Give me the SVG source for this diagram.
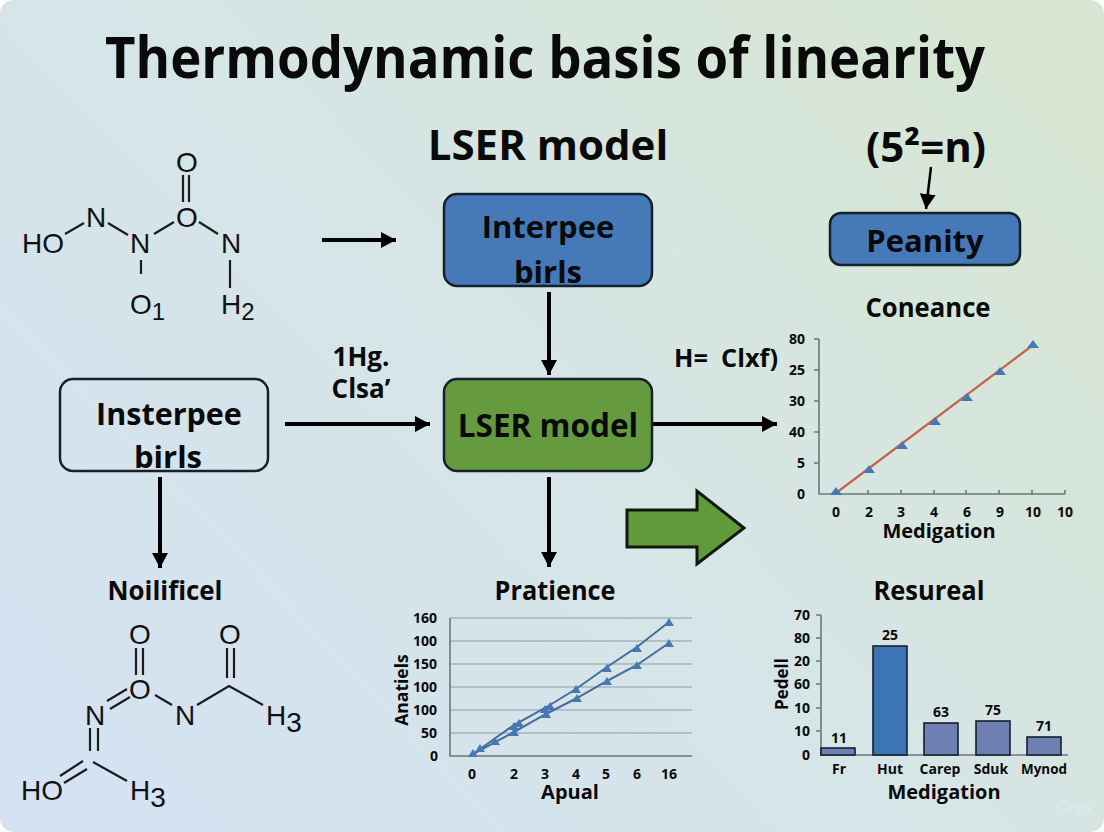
<svg xmlns="http://www.w3.org/2000/svg" width="1104" height="832" viewBox="0 0 1104 832">
<defs>
<linearGradient id="bg" gradientUnits="userSpaceOnUse" x1="120" y1="832" x2="984" y2="0"><stop offset="0" stop-color="#d4e2f2"/><stop offset="0.5" stop-color="#d6e5e6"/><stop offset="1" stop-color="#d6e6d2"/></linearGradient>
<marker id="a" markerUnits="userSpaceOnUse" markerWidth="18" markerHeight="18" refX="15" refY="9" orient="auto"><path d="M0 1L15 9L0 17z" fill="#000"/></marker>
</defs>
<style>
text{font-family:"Open Sans","DejaVu Sans",sans-serif;fill:#0a0a0a}
.b{font-weight:700}
.chem{font-family:"Liberation Sans",Arial,sans-serif;font-size:28px;fill:#111}
.bond{stroke:#1c1c1c;stroke-width:2.2;fill:none}
.c{stroke:#000;stroke-width:4;fill:none;marker-end:url(#a)}
.box{stroke:#14202a;stroke-width:2.5}
.t{font-size:14px;font-weight:700;text-anchor:middle}
.ax{stroke:#6c7676;stroke-width:1.6;fill:none}
.grid{stroke:#8e9ba4;stroke-width:1;fill:none}
.s{stroke:#466c9c;stroke-width:2;fill:none}
.m{fill:#4878b4}
.bar{stroke:#14202e;stroke-width:1.6;fill:#6d7fb3}
</style>
<rect width="1104" height="832" fill="#fff"/>
<rect width="1104" height="832" rx="14" fill="url(#bg)"/>
<text class="b" x="545" y="78" font-size="58" text-anchor="middle" textLength="880" lengthAdjust="spacingAndGlyphs">Thermodynamic basis of linearity</text>
<text class="b" x="548" y="160" font-size="42" text-anchor="middle">LSER model</text>
<text class="b" x="926" y="162" font-size="42" text-anchor="middle">(5²=n)</text>
<g id="connectors">
<path class="c" d="M322 240H396"/>
<path class="c" d="M549 292V375"/>
<path class="c" d="M285 424H430"/>
<path class="c" d="M653 424H777"/>
<path class="c" d="M160 477V568"/>
<path class="c" d="M549 477V567"/>
<path class="c" style="stroke-width:2.5" d="M931 167L926 209"/>
<path id="big-arrow" d="M627 510H697V491L744 528L697 564V547H627z" fill="#619a3a" stroke="#10180c" stroke-width="3"/>
</g>
<g id="mol-top">
<text class="chem" x="22" y="253">HO</text><text class="chem" x="86" y="227">N</text><text class="chem" x="130" y="253">N</text><text class="chem" x="176" y="227">O</text><text class="chem" x="176" y="172">O</text><text class="chem" x="221" y="253">N</text><text class="chem" x="130" y="314">O<tspan font-size="24" dy="6">1</tspan></text><text class="chem" x="221" y="314">H<tspan font-size="24" dy="6">2</tspan></text>
<path class="bond" d="M65 234L84 223M108 223L128 235M154 234L174 222M199 222L218 234M141 260V274M230 260V288M183 175V202M189 175V202"/>
</g>
<g id="n1"><rect class="box" x="444" y="194" width="208" height="92" rx="13" fill="#4579b8"/><text class="b" x="548" y="238" font-size="31" text-anchor="middle">Interpee</text><text class="b" x="548" y="283" font-size="31" text-anchor="middle">birls</text></g>
<g id="n2"><rect class="box" x="830" y="213" width="190" height="52" rx="11" fill="#4579b8"/><text class="b" x="925" y="252" font-size="31" text-anchor="middle">Peanity</text></g>
<g id="n3"><rect class="box" x="60" y="379" width="208" height="92" rx="13" fill="none"/><text class="b" x="169" y="425" font-size="30.5" text-anchor="middle">Insterpee</text><text class="b" x="168" y="468" font-size="31" text-anchor="middle">birls</text></g>
<g id="n4"><rect class="box" x="444" y="379" width="208" height="92" rx="13" fill="#659a3e"/><text class="b" x="548" y="437" font-size="31.5" text-anchor="middle">LSER model</text></g>
<text class="b" x="361" y="366" font-size="26" text-anchor="middle">1Hg.</text>
<text class="b" x="361" y="398" font-size="26" text-anchor="middle">Clsa’</text>
<text class="b" x="726" y="367" font-size="25" text-anchor="middle" xml:space="preserve" textLength="104" lengthAdjust="spacingAndGlyphs">H=  Clxf)</text>
<text class="b" x="928" y="317" font-size="26" text-anchor="middle" textLength="125" lengthAdjust="spacingAndGlyphs">Coneance</text>
<text class="b" x="165" y="600" font-size="27" text-anchor="middle" textLength="115" lengthAdjust="spacingAndGlyphs">Noilificel</text>
<text class="b" x="555" y="600" font-size="27" text-anchor="middle" textLength="121" lengthAdjust="spacingAndGlyphs">Pratience</text>
<text class="b" x="929" y="600" font-size="27" text-anchor="middle" textLength="111" lengthAdjust="spacingAndGlyphs">Resureal</text>
<g id="mol-bottom">
<text class="chem" x="129" y="644">O</text><text class="chem" x="219" y="644">O</text><text class="chem" x="129" y="699">O</text><text class="chem" x="85" y="725">N</text><text class="chem" x="175" y="725">N</text><text class="chem" x="266" y="725">H<tspan dy="7">3</tspan></text><text class="chem" x="21" y="800">HO</text><text class="chem" x="130" y="800">H<tspan dy="7">3</tspan></text>
<path class="bond" d="M136 648V675M143 648V675M227 648V678M234 648V678M107 701L127 689M110 709L130 697M155 695L172 705M197 705L229 686L263 705M90 728V751M98 728V751M93 762L127 781M60 776L83 761M64 783L87 769"/>
</g>
<g id="chart-top">
<path class="ax" d="M819 339V494H1065M819 339H814M819 370H814M819 401H814M819 432H814M819 463H814M868 494V490M901 494V490M934 494V490M966 494V490M999 494V490M1032 494V490M1065 494V490"/>
<path d="M836 493L1033 345" stroke="#c8604e" stroke-width="2.2" fill="none"/>
<path class="m" d="M836 487l6 8h-12zM869 465l6 8h-12zM902 441l6 8h-12zM935 417l6 8h-12zM967 393l6 8h-12zM1000 367l6 8h-12zM1033 340l6 8h-12z"/>
<g class="t">
<text x="797" y="344">80</text><text x="797" y="375">25</text><text x="797" y="406">30</text><text x="797" y="437">40</text><text x="801" y="468">5</text><text x="801" y="499">0</text>
<text x="836" y="517">0</text><text x="869" y="517">2</text><text x="901" y="517">3</text><text x="934" y="517">4</text><text x="967" y="517">6</text><text x="1000" y="517">9</text><text x="1033" y="517">10</text><text x="1065" y="517">10</text></g>
<text class="b" x="939" y="538" font-size="20" text-anchor="middle">Medigation</text>
</g>
<g id="chart-left">
<path class="grid" d="M450 618H692M450 641H692M450 664H692M450 687H692M450 710H692M450 733H692"/>
<path class="ax" d="M450 618V756H692"/>
<path class="s" d="M473 754L514 725L545 708L576 689L607 667L637 647L669 622"/>
<path class="s" d="M473 754L514 732L546 714L577 698L607 681L637 665L669 643"/>
<path class="m" d="M473 749l5 8h-10zM480 744l5 8h-10zM495 737l5 8h-10zM514 722l5 8h-10zM519 719l5 8h-10zM545 705l5 8h-10zM550 702l5 8h-10zM576 685l5 8h-10zM607 664l5 8h-10zM637 644l5 8h-10zM669 618l5 8h-10zM514 728l5 8h-10zM546 710l5 8h-10zM577 694l5 8h-10zM607 677l5 8h-10zM637 661l5 8h-10zM669 639l5 8h-10z"/>
<g class="t">
<text x="425" y="623">160</text><text x="425" y="646">100</text><text x="425" y="669">150</text><text x="425" y="692">100</text><text x="425" y="715">100</text><text x="429" y="738">50</text><text x="434" y="761">0</text>
<text x="472" y="779">0</text><text x="514" y="779">2</text><text x="545" y="779">3</text><text x="576" y="779">4</text><text x="606" y="779">5</text><text x="637" y="779">6</text><text x="669" y="779">16</text></g>
<text class="b" transform="translate(408 690) rotate(-90)" font-size="17.5" text-anchor="middle">Anatiels</text>
<text class="b" x="570" y="799" font-size="20" text-anchor="middle">Apual</text>
</g>
<g id="chart-right">
<path class="ax" d="M821 615V755H1068M821 615H816M821 638H816M821 661H816M821 684H816M821 708H816M821 731H816"/>
<rect class="bar" x="821" y="748" width="34" height="7"/>
<rect x="873" y="646" width="34" height="109" fill="#3c74b4" stroke="#14202e" stroke-width="1.6"/>
<rect class="bar" x="924" y="723" width="34" height="32"/>
<rect class="bar" x="976" y="721" width="34" height="34"/>
<rect class="bar" x="1027" y="737" width="34" height="18"/>
<g class="t">
<text x="802" y="620">70</text><text x="802" y="643">80</text><text x="802" y="666">20</text><text x="802" y="689">60</text><text x="802" y="713">10</text><text x="802" y="736">10</text><text x="806" y="760">0</text>
<text x="839" y="743">11</text><text x="890" y="640">25</text><text x="941" y="717">63</text><text x="993" y="715">75</text><text x="1044" y="731">71</text>
<text x="839" y="774">Fr</text><text x="890" y="774">Hut</text><text x="940" y="774">Carep</text><text x="991" y="774">Sduk</text><text x="1044" y="774" textLength="46" lengthAdjust="spacingAndGlyphs">Mynod</text></g>
<text class="b" transform="translate(788 684) rotate(-90)" font-size="17" text-anchor="middle">Pedell</text>
<text class="b" x="944" y="799" font-size="20" text-anchor="middle">Medigation</text>
<text x="1056" y="814" font-size="17" style="fill:#e0eaee">Grok</text>
</g>
</svg>
